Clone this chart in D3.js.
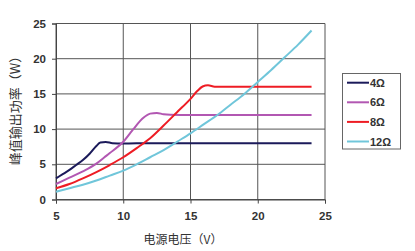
<!DOCTYPE html>
<html>
<head>
<meta charset="utf-8">
<script src="https://cdn.jsdelivr.net/npm/d3@7"></script>
<style>
  body { margin: 0; background: #fff; }
  svg { display: block; }
  .tick text { font-family: "Liberation Sans", Arial, sans-serif; font-size: 11.5px; font-weight: bold; fill: #333; }
</style>
</head>
<body>
<svg id="chart" width="415" height="251"></svg>
<script>
// values (supply voltage V -> peak output power W)
const xTicks = [5, 10, 15, 20, 25];
const yTicks = [0, 5, 10, 15, 20, 25];
const seriesNames = ["4Ω", "6Ω", "8Ω", "12Ω"];

const ohm4 = [[5, 3.0], [5.5, 3.6], [6, 4.2], [6.5, 4.9], [7, 5.6], [7.5, 6.5], [8, 7.6], [8.3, 8.1],
  [8.7, 8.18], [9.2, 8.0], [10, 7.95], [12, 8.0], [24, 8.0]];
const ohm6 = [[5, 2.2], [6, 3.1], [7, 4.0], [8, 5.1], [8.6, 6.0], [9, 6.6], [10, 8.2], [10.75, 10.0],
  [11.5, 11.6], [12, 12.2], [12.5, 12.3], [13, 12.1], [13.5, 12.03], [15, 12.0], [24, 12.0]];
const ohm8 = [[5, 1.6], [6, 2.2], [7, 3.0], [8, 3.9], [9, 4.9], [10, 6.0], [11, 7.3], [12, 8.7],
  [13, 10.5], [14, 12.4], [15, 14.3], [15.5, 15.4], [15.9, 16.05], [16.3, 16.22], [16.8, 16.02], [17.5, 16.0], [24, 16.0]];
const ohm12 = [[5, 1.1], [6, 1.6], [7, 2.1], [8, 2.7], [9, 3.4], [10, 4.1], [11, 5.0], [12, 6.0],
  [13, 7.0], [14, 8.2], [15, 9.4], [16, 10.7], [17, 12.0], [18, 13.5], [19, 15.0], [20, 16.7],
  [21, 18.4], [22, 20.2], [23, 22.0], [24, 24.0]];

const colors = ["#1b1a5a", "#b257b2", "#ee1c24", "#70c6da"];
const series = [ohm4, ohm6, ohm8, ohm12];

const svg = d3.select("#chart");
const x = d3.scaleLinear().domain([5, 25]).range([56, 325]);
const y = d3.scaleLinear().domain([0, 25]).range([199.5, 23.5]);

// grid
svg.append("g").selectAll("line.h").data(yTicks).enter().append("line")
  .attr("x1", x(5)).attr("x2", x(25))
  .attr("y1", d => y(d)).attr("y2", d => y(d))
  .attr("stroke", "#555").attr("stroke-width", 1);
svg.append("g").selectAll("line.v").data(xTicks).enter().append("line")
  .attr("x1", d => x(d)).attr("x2", d => x(d))
  .attr("y1", y(0)).attr("y2", y(25))
  .attr("stroke", "#555").attr("stroke-width", 1);

// axes
const xAxis = svg.append("g").attr("transform", `translate(0,${y(0)})`)
  .call(d3.axisBottom(x).tickValues(xTicks).tickSize(4).tickPadding(8));
const yAxis = svg.append("g").attr("transform", `translate(${x(5)},0)`)
  .call(d3.axisLeft(y).tickValues(yTicks).tickSize(4).tickPadding(6));
[xAxis, yAxis].forEach(a => {
  a.select(".domain").attr("stroke", "#444");
  a.selectAll(".tick line").attr("stroke", "#444");
});

// curves
const line = d3.line().x(d => x(d[0])).y(d => y(d[1])).curve(d3.curveMonotoneX);
series.forEach((s, i) => {
  svg.append("path").datum(s)
    .attr("d", line)
    .attr("fill", "none")
    .attr("stroke", colors[i])
    .attr("stroke-width", 2);
});

// axis titles
svg.append("text")
  .attr("transform", `translate(20,${(y(0) + y(25)) / 2 - 4}) rotate(-90)`)
  .attr("text-anchor", "middle")
  .style("font-family", "'Noto Sans CJK SC', sans-serif")
  .style("font-size", "13px")
  .attr("fill", "#333")
  .text("峰值输出功率（W）");
svg.append("text")
  .attr("x", 183).attr("y", 244)
  .attr("text-anchor", "middle")
  .style("font-family", "'Noto Sans CJK SC', sans-serif")
  .style("font-size", "12px")
  .attr("fill", "#333")
  .text("电源电压（V）");

// legend
const lg = svg.append("g");
lg.append("rect").attr("x", 342.5).attr("y", 73.5).attr("width", 58).attr("height", 75.5)
  .attr("fill", "#fff").attr("stroke", "#666");
seriesNames.forEach((name, i) => {
  const yy = 82.7 + i * 19.6;
  lg.append("line").attr("x1", 347).attr("x2", 369).attr("y1", yy).attr("y2", yy)
    .attr("stroke", colors[i]).attr("stroke-width", 2);
  lg.append("text").attr("x", 370).attr("y", yy + 4)
    .style("font-family", "'Liberation Sans', Arial, sans-serif")
    .style("font-size", "11px").style("font-weight", "bold")
    .attr("fill", "#333").text(name);
});
</script>
</body>
</html>
